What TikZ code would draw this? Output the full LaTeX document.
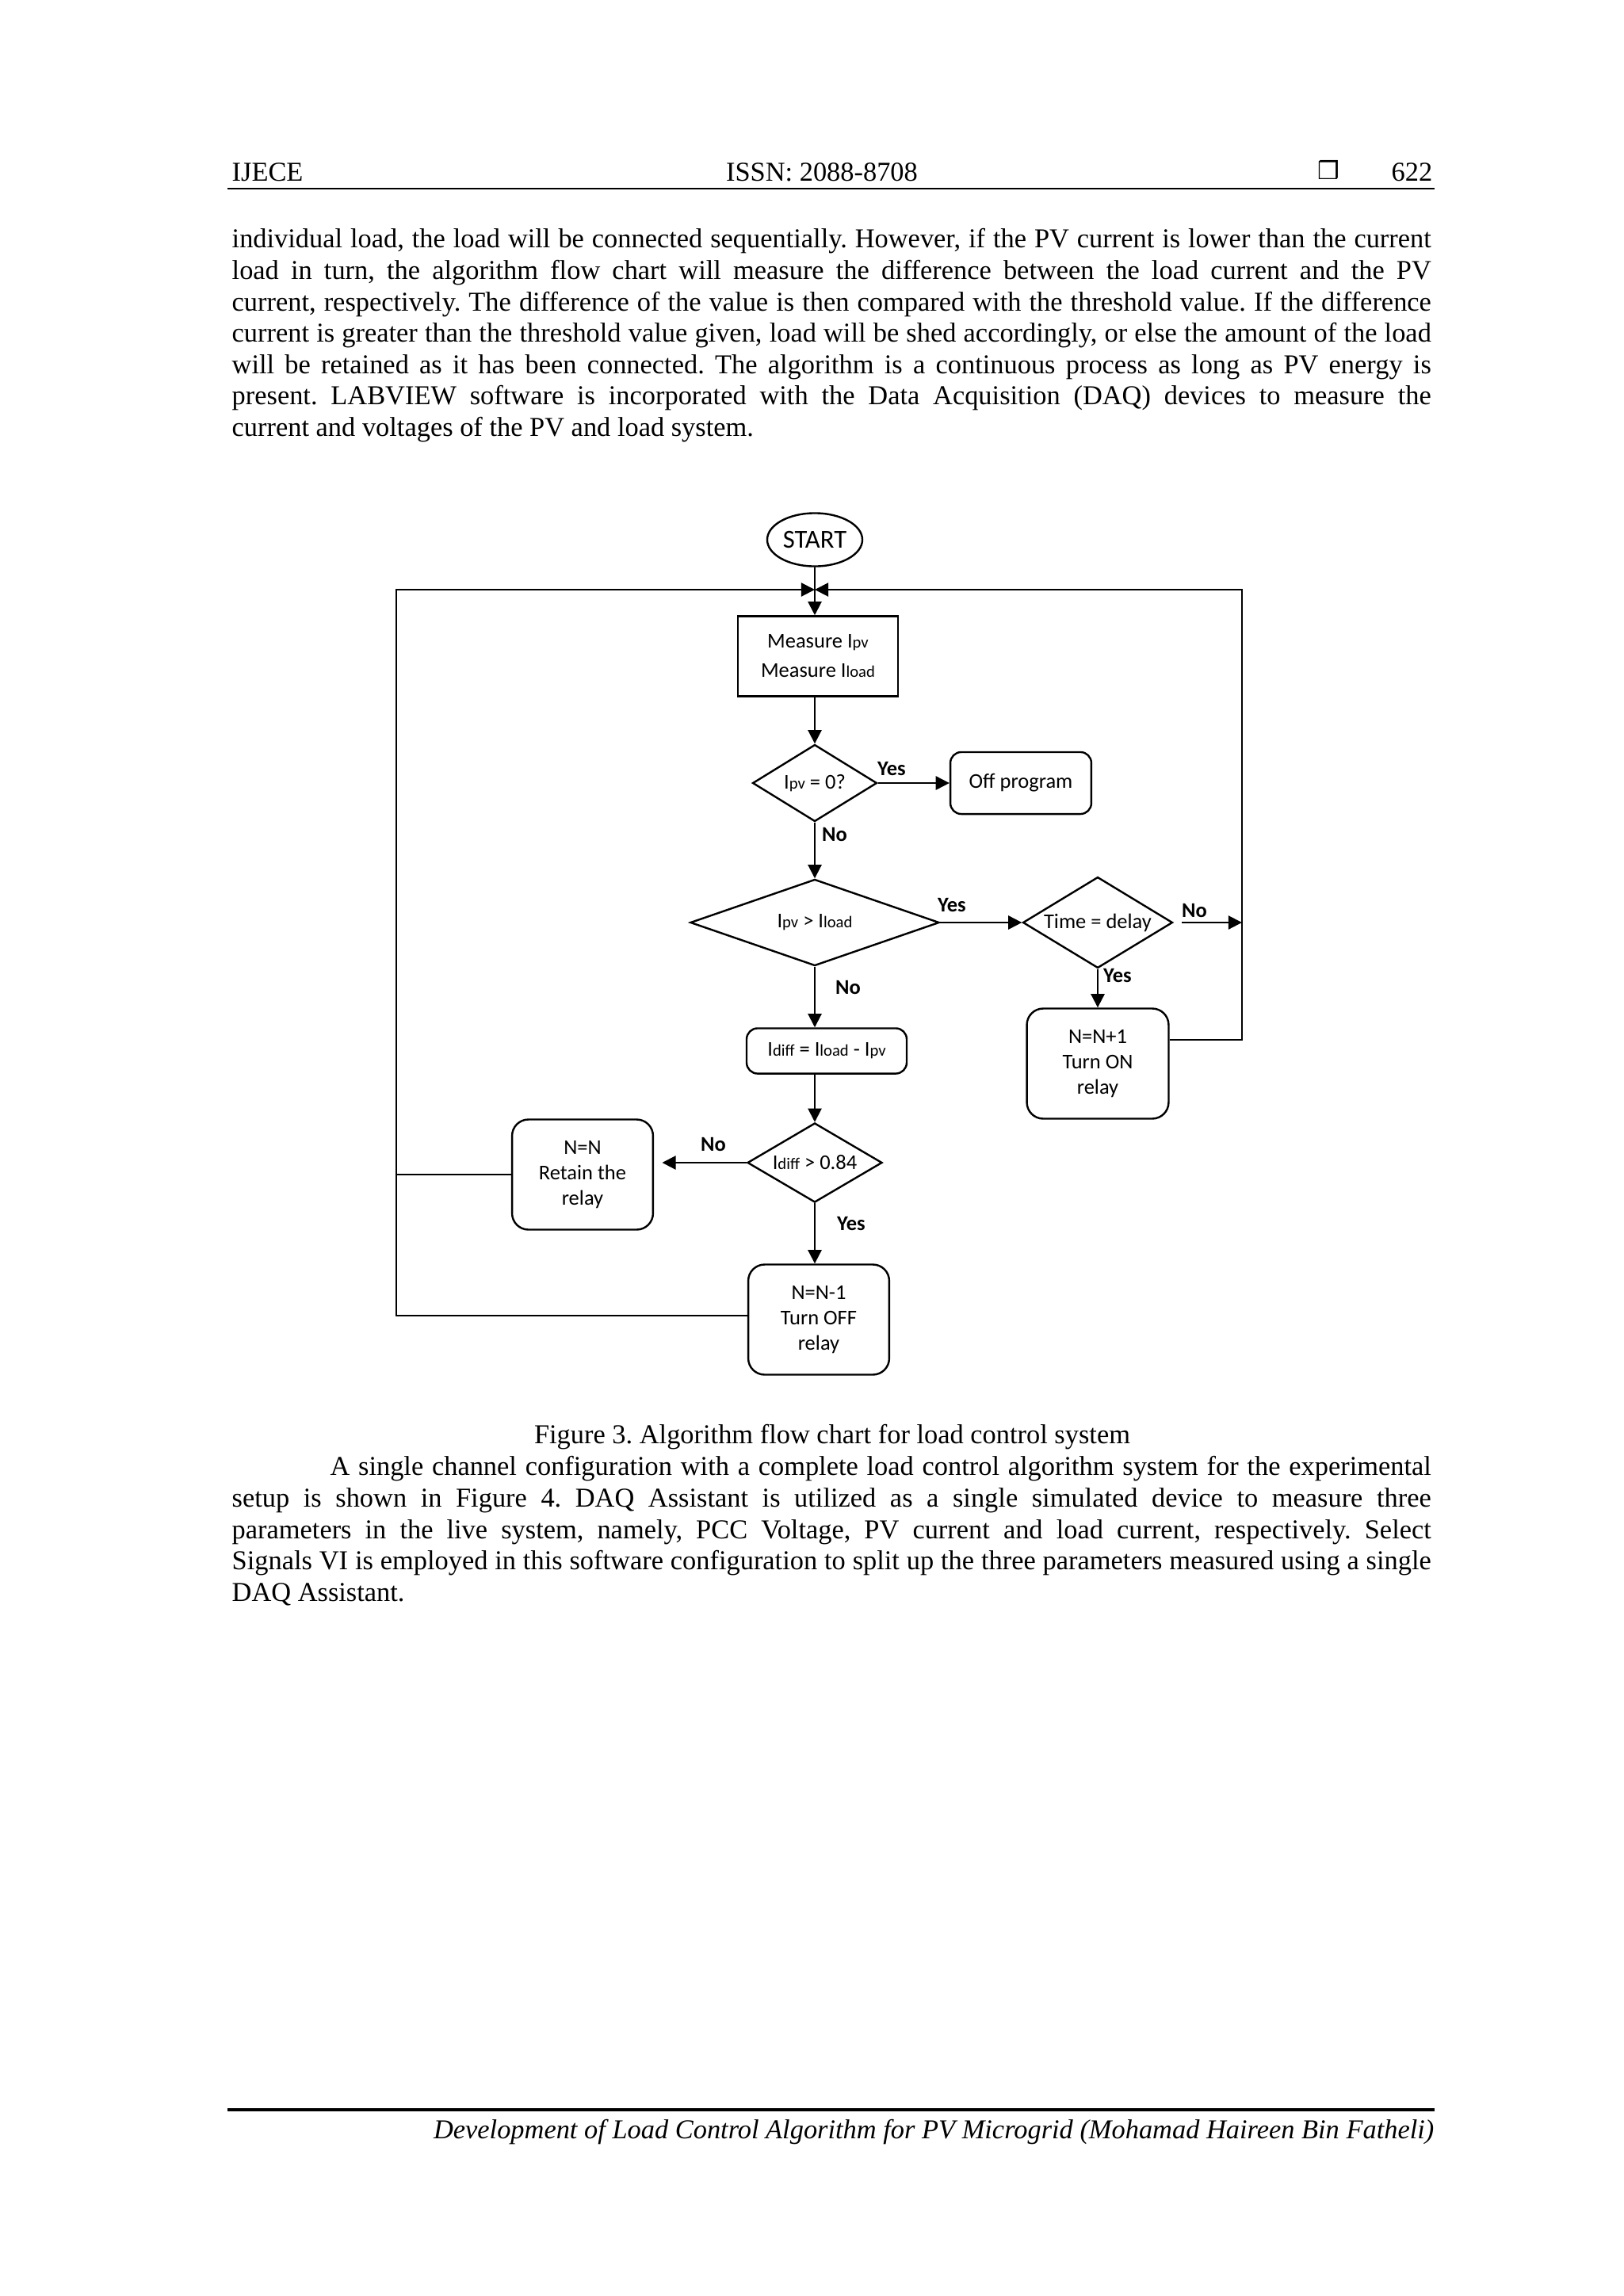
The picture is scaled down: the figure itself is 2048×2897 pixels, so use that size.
\documentclass[tikz,border=0pt]{standalone}
\usepackage{fontspec}
\setmainfont{Liberation Serif}
\newfontfamily\flowfont{Carlito}
\newfontfamily\symfont{DejaVu Sans}
\usetikzlibrary{shapes.geometric,arrows.meta,calc}
\frenchspacing

\newcommand{\lo}[1]{{\fontsize{6}{6}\selectfont #1}}

\begin{document}
\begin{tikzpicture}[x=0.29066pt,y=-0.29066pt,
			every node/.style={inner sep=0pt},
			txt/.style={font=\fontsize{10}{11.5}\selectfont,anchor=base},
			para/.style={font=\fontsize{10}{11.5}\selectfont,anchor=north west,text width=439.8pt,align=justify},
			term/.style={ellipse,draw,line width=0.7pt,font=\flowfont\fontsize{9.5}{11}\selectfont},
			proc/.style={draw,line width=0.7pt,align=center,font=\flowfont\fontsize{7.7}{10.75}\selectfont},
			rproc/.style={proc,rounded corners=6pt,font=\flowfont\fontsize{7.7}{9.2}\selectfont},
			decide/.style={diamond,draw,line width=0.7pt,font=\flowfont\fontsize{7.7}{9}\selectfont},
			lbl/.style={font=\flowfont\bfseries\fontsize{7.7}{9}\selectfont},
			flow/.style={line width=0.6pt,-{Triangle[length=5pt,width=5pt]}},
			link/.style={line width=0.6pt}]
	\useasboundingbox (0,0) rectangle (2048,2897);
	% page head
	\node[txt,anchor=base west] (head) at (292,228) {IJECE};
	\node[txt] (issn) at (1037,228) {ISSN: 2088-8708};
	\node[txt,anchor=base east] (page) at (1808,228) {622};
	\node[anchor=base,font=\symfont\fontsize{9}{9}\selectfont] (mark) at (1676,226) {❒};
	\draw[line width=0.7pt] (287,238) -- (1810,238);
	% text above the chart
	\node[para] (textA) at (292,288) {\noindent\hyphenpenalty=10000
		individual load, the load will be connected sequentially. However, if the PV current is lower than the current\linebreak
		load in turn, the algorithm flow chart will measure the difference between the load current and the PV\linebreak
		current, respectively. The difference of the value is then compared with the threshold value. If the difference\linebreak
		current is greater than the threshold value given, load will be shed accordingly, or else the amount of the load\linebreak
		will be retained as it has been connected. The algorithm is a continuous process as long as PV energy is\linebreak
		present. LABVIEW software is incorporated with the Data Acquisition (DAQ) devices to measure the\linebreak
		current and voltages of the PV and load system.};
	% flow chart
	\node[term,minimum width=34.9pt,minimum height=19.5pt] (start) at (1028,681) {START};
	\node[proc,minimum width=58.7pt,minimum height=29.4pt] (meas) at (1032,828) {Measure I\lo{pv}\\Measure I\lo{load}};
	\node[decide,aspect=1.6,minimum width=45.6pt,minimum height=28.2pt] (zero) at (1028,988) {I\lo{pv} = 0?};
	\node[proc,rounded corners=4pt,minimum width=51.7pt,minimum height=22.7pt] (off) at (1288,988) {Off program};
	\node[decide,aspect=2.9,minimum width=91.3pt,minimum height=31.7pt] (more) at (1028,1164) {I\lo{pv} > I\lo{load}};
	\node[decide,aspect=1.64,minimum width=54.9pt,minimum height=33.4pt] (time) at (1385,1164) {Time = delay};
	\node[rproc,minimum width=52pt,minimum height=40.4pt] (turnon) at (1385,1342) {N=N+1\\Turn ON\\relay};
	\node[proc,rounded corners=4pt,minimum width=58.7pt,minimum height=16.6pt] (diff) at (1043,1326) {I\lo{diff} = I\lo{load} - I\lo{pv}};
	\node[decide,aspect=1.7,minimum width=49.4pt,minimum height=29.1pt] (cmp) at (1028,1467) {I\lo{diff} > 0.84};
	\node[rproc,minimum width=51.7pt,minimum height=40.4pt] (keep) at (735,1482) {N=N\\Retain the\\relay};
	\node[rproc,minimum width=51.7pt,minimum height=40.4pt] (turnoff) at (1033,1665) {N=N-1\\Turn OFF\\relay};
	\coordinate (jn) at (1028,744);
	\coordinate (ll) at (500,1660);
	\coordinate (rr) at (1567,1312);
	% connectors
	\draw[flow] (start.south) -- (start.south |- meas.north);
	\draw[flow] (meas.south -| zero.north) -- (zero.north);
	\draw[flow] (zero.east) -- (off.west);
	\draw[flow] (zero.south) -- (more.north);
	\draw[flow] (more.east) -- (time.west);
	\draw[flow,shorten <=3pt] (time.east) -- (time.east -| rr);
	\draw[flow] (time.south) -- (turnon.north);
	\draw[flow] (turnon.east |- rr) -- (rr) |- (jn);
	\draw[flow] (more.south) -- (more.south |- diff.north);
	\draw[flow] (more.south |- diff.south) -- (cmp.north);
	\draw[flow,shorten >=3pt] (cmp.west) -- (keep.east |- cmp.west);
	\draw[flow] (cmp.south) -- (cmp.south |- turnoff.north);
	\draw[link] (keep.west) -- (keep.west -| ll);
	\draw[flow] (turnoff.west |- ll) -- (ll) |- (jn);
	% branch labels
	\node[lbl] (yesA) at (1125,970) {Yes};
	\node[lbl] (noA) at (1053,1053) {No};
	\node[lbl] (yesB) at (1201,1142) {Yes};
	\node[lbl] (noB) at (1507,1149) {No};
	\node[lbl] (yesC) at (1410,1231) {Yes};
	\node[lbl] (noC) at (1070,1246) {No};
	\node[lbl] (noD) at (900,1444) {No};
	\node[lbl] (yesD) at (1074,1544) {Yes};
	% caption and text below
	\node[txt] (cap) at (1050,1821) {Figure 3. Algorithm flow chart for load control system};
	\node[para] (textB) at (292,1837) {\noindent\hyphenpenalty=10000\hspace*{36pt}%
		A single channel configuration with a complete load control algorithm system for the experimental\linebreak
		setup is shown in Figure 4. DAQ Assistant is utilized as a single simulated device to measure three\linebreak
		parameters in the live system, namely, PCC Voltage, PV current and load current, respectively. Select\linebreak
		Signals VI is employed in this software configuration to split up the three parameters measured using a single\linebreak
		DAQ Assistant.};
	% page foot
	\draw[line width=1pt] (287,2662) -- (1810,2662);
	\node[txt,anchor=base east,font=\fontsize{10}{11.5}\selectfont\itshape] (foot) at (1810,2698) {Development of Load Control Algorithm for PV Microgrid (Mohamad Haireen Bin Fatheli)};
\end{tikzpicture}
\end{document}
